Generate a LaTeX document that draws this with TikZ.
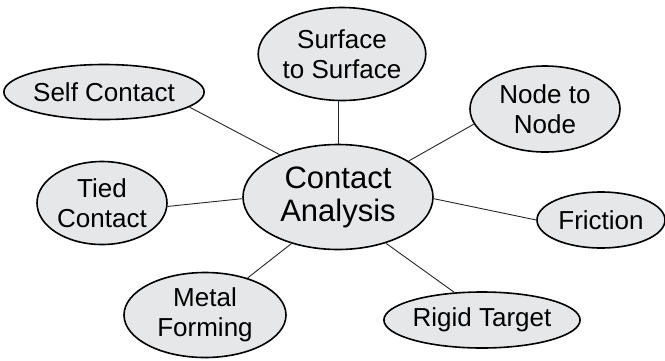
\documentclass[tikz,border=0pt]{standalone}
\usepackage{fontspec}
\setmainfont{Liberation Sans}
\usepackage{xcolor}
\usetikzlibrary{shapes,positioning}
\definecolor{bubblegray}{HTML}{E6E7E8}

\begin{document}
\begin{tikzpicture}[x = 1pt, y = -1pt,
    bubble/.style = {ellipse, draw, line width = 1.6pt, fill = bubblegray, align = center, inner sep = 0pt, font = \fontsize{26}{30}\selectfont},
    link/.style = {line width = .9pt, black!85}]
    \useasboundingbox (0,0) rectangle (665,360);
    \node[bubble, minimum width = 190pt, minimum height = 105pt, font = \fontsize{31}{33}\selectfont] (contact) at (338,197) {Contact\\Analysis};
    %%%%%%%%%%
    \node[bubble, minimum width = 150pt, minimum height = 93pt] (surface) at (342,54) {Surface\\to Surface};
    \node[bubble, minimum width = 195pt, minimum height = 55pt] (self) at (104,92) {Self Contact};
    \node[bubble, minimum width = 150pt, minimum height = 86pt] (nodenode) at (545,109) {Node to\\Node};
    \node[bubble, minimum width = 130pt, minimum height = 83pt] (tied) at (102,203) {Tied\\Contact};
    \node[bubble, minimum width = 128pt, minimum height = 56pt] (friction) at (601,220) {Friction};
    \node[bubble, minimum width = 162pt, minimum height = 85pt] (metal) at (205,315) {Metal\\Forming};
    \node[bubble, minimum width = 192pt, minimum height = 56pt] (rigid) at (482,320) {Rigid Target};
    %%%%%%%%%%
    \draw[link] (contact.north) -- (contact.north |- surface.south);
    \draw[link] (contact.144) -- (self.350);
    \draw[link] (contact.27) -- (nodenode.192);
    \draw[link] (contact.181) -- (tied.357);
    \draw[link] (contact.359) -- (friction.180);
    \draw[link] (contact.316) -- (rigid.135);
    \draw[link] (contact.225) -- (metal.41);
\end{tikzpicture}
\end{document}
